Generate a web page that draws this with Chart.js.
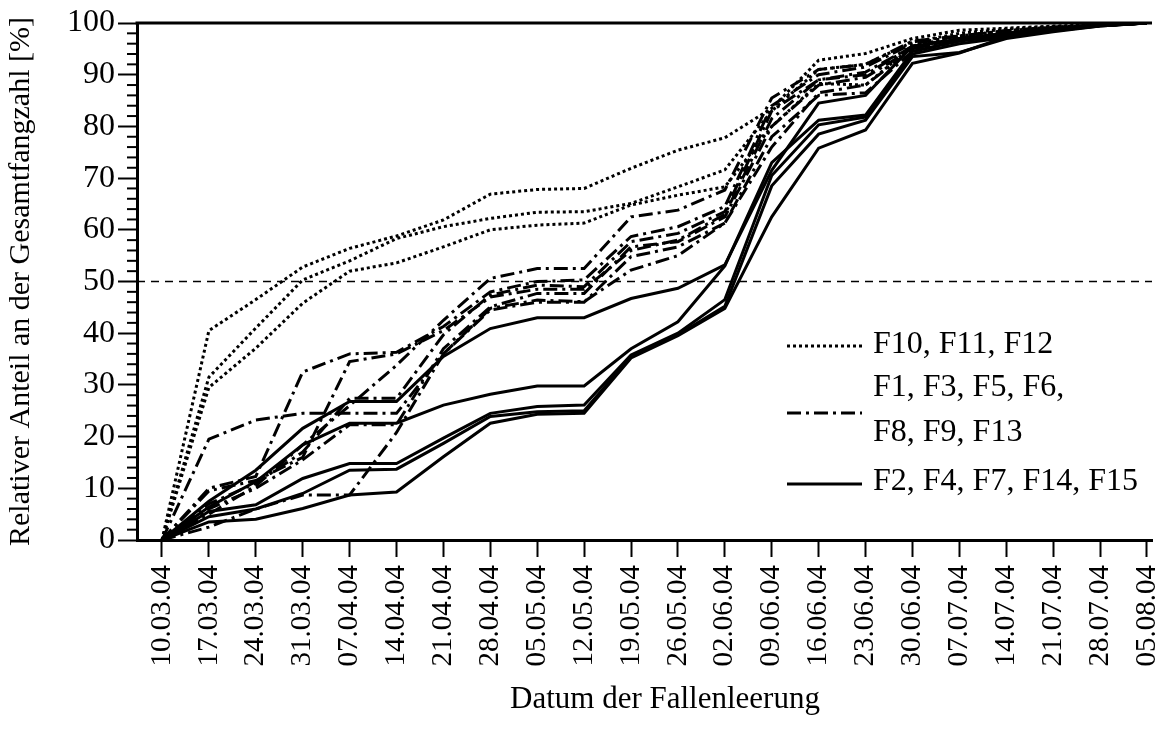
<!DOCTYPE html>
<html><head><meta charset="utf-8">
<script src="https://cdn.jsdelivr.net/npm/chart.js@4.4.1/dist/chart.umd.min.js"></script>
<style>html,body{margin:0;padding:0;background:#fff;}#wrap{width:1168px;height:731px;}</style>
</head><body><div id="wrap"><canvas id="c" width="1168" height="731"></canvas></div>
<script>
// ---- data ----
const dates = ["10.03.04","17.03.04","24.03.04","31.03.04","07.04.04","14.04.04","21.04.04","28.04.04","05.05.04","12.05.04","19.05.04","26.05.04","02.06.04","09.06.04","16.06.04","23.06.04","30.06.04","07.07.04","14.07.04","21.07.04","28.07.04","05.08.04"];
const yTicks = [0,10,20,30,40,50,60,70,80,90,100];
const threshold = 50;
const xTitle = 'Datum der Fallenleerung';
const yTitle = 'Relativer Anteil an der Gesamtfangzahl [%]';

// dotted group
const F10 = [0,40.5,46.5,52.8,56.4,58.8,61.9,66.9,67.8,68.0,71.9,75.4,77.8,83.5,92.8,94.1,97.0,98.6,99.0,99.4,99.7,100];
const F11 = [0,31.5,41.0,50.3,54.0,58.3,60.6,62.2,63.4,63.5,65.1,68.3,71.6,83.0,91.0,92.0,96.3,98.0,98.8,99.3,99.7,100];
const F12 = [0,29.5,37.1,45.8,52.0,53.6,56.7,60.0,60.9,61.3,64.8,66.7,68.3,80.0,88.3,88.0,95.5,97.5,98.5,99.2,99.6,100];
// dash-dot group
const F1  = [0,19.5,23.2,24.5,24.5,24.5,36.0,44.8,46.4,46.1,52.2,55.0,61.3,76.0,86.5,88.0,95.0,97.0,98.0,99.0,99.5,100];
const F3  = [0,10.0,12.3,32.5,36.0,36.3,41.3,48.0,50.0,50.3,58.7,60.6,64.5,84.0,90.0,91.5,96.0,97.5,98.5,99.0,99.5,100];
const F5  = [0,5.0,10.5,18.4,26.0,33.8,42.5,50.6,52.5,52.5,62.5,63.8,67.7,85.5,91.0,92.0,96.5,97.5,98.5,99.2,99.6,100];
const F6  = [0,7.0,11.0,17.0,27.4,27.4,39.7,47.4,49.3,49.0,57.7,59.3,63.5,83.0,89.0,90.5,95.5,97.0,98.0,99.0,99.5,100];
const F8  = [0,6.0,10.0,15.5,22.3,22.3,37.0,45.1,47.7,47.7,56.7,57.7,62.5,80.0,88.0,89.5,95.0,97.0,98.0,99.0,99.5,100];
const F9  = [0,2.5,6.0,8.7,8.7,20.8,36.0,44.5,46.0,46.0,54.8,56.7,61.3,78.0,86.0,86.5,94.5,96.5,97.5,98.5,99.5,100];
const F13 = [0,9.5,11.5,16.0,34.5,36.0,40.5,47.0,48.5,48.5,56.0,58.0,63.0,81.5,89.0,90.0,95.5,97.0,98.0,99.0,99.5,100];
// solid group
const F2  = [0,7.5,13.5,21.6,26.8,26.8,35.5,40.9,43.0,43.0,46.7,48.7,53.2,71.5,84.5,86.0,95.5,96.8,97.8,98.8,99.6,100];
const F4  = [0,6.4,11.3,18.4,22.6,22.6,26.1,28.2,29.8,29.8,37.0,42.2,53.0,73.0,81.2,82.2,94.5,96.5,97.5,98.5,99.5,100];
const F7  = [0,5.5,6.8,11.9,14.8,14.8,19.7,24.5,25.8,26.1,35.8,40.0,46.5,70.5,80.3,81.8,94.0,96.0,97.2,98.5,99.5,100];
const F14 = [0,4.5,6.0,9.0,13.5,13.7,18.7,23.9,24.8,25.0,35.5,39.7,45.2,68.5,78.5,81.2,93.5,94.3,97.0,98.3,99.4,100];
const F15 = [0,3.5,4.0,6.1,8.7,9.3,16.1,22.6,24.3,24.5,35.2,39.5,44.8,62.5,75.8,79.3,92.2,94.2,97.3,98.5,99.4,100];

const dottedNames = ["F10","F11","F12"];
const dottedData  = [F10,F11,F12];
const dashdotNames = ["F1","F3","F5","F6","F8","F9","F13"];
const dashdotData  = [F1,F3,F5,F6,F8,F9,F13];
const solidNames = ["F2","F4","F7","F14","F15"];
const solidData  = [F2,F4,F7,F14,F15];

const legendTexts = [["F10, F11, F12"],["F1, F3, F5, F6,","F8, F9, F13"],["F2, F4, F7, F14, F15"]];

// ---- styles ----
const FONT = '"Liberation Serif", "Times New Roman", serif';
const DOT = [3,3], DASHDOT = [14,5,3,5], SOLID = [];

function mk(name, arr, dash){
  return {label:name, data:arr.map((v,i)=>({x:i,y:v})), borderColor:'#000', borderWidth:3,
    borderDash:dash, pointRadius:0, tension:0, fill:false, borderCapStyle:'butt', borderJoinStyle:'miter'};
}
const datasets = [];
solidNames.forEach((n,i)=>datasets.push(mk(n, solidData[i], SOLID)));
dashdotNames.forEach((n,i)=>datasets.push(mk(n, dashdotData[i], DASHDOT)));
dottedNames.forEach((n,i)=>datasets.push(mk(n, dottedData[i], DOT)));

const extras = {
  id:'extras',
  beforeDatasetsDraw(chart){
    const {ctx, chartArea:a, scales:{y}} = chart;
    const yy = y.getPixelForValue(threshold);
    ctx.save(); ctx.strokeStyle='#000'; ctx.lineWidth=1.5; ctx.setLineDash([8,6]);
    ctx.beginPath(); ctx.moveTo(a.left, yy); ctx.lineTo(a.right, yy); ctx.stroke(); ctx.restore();
  },
  afterDraw(chart){
    const {ctx, chartArea:a, scales:{y}} = chart;
    ctx.save(); ctx.strokeStyle='#000'; ctx.fillStyle='#000';
    // top frame line
    ctx.lineWidth=3; ctx.beginPath(); ctx.moveTo(a.left-1.5, a.top); ctx.lineTo(a.right, a.top); ctx.stroke();
    // minor y ticks
    ctx.lineWidth=2;
    for(let v=0; v<=100; v+=2){ if(v%10===0) continue; const py=y.getPixelForValue(v);
      ctx.beginPath(); ctx.moveTo(a.left-10, py); ctx.lineTo(a.left, py); ctx.stroke(); }
    // x axis title
    ctx.font='31px '+FONT; ctx.textAlign='center'; ctx.textBaseline='middle';
    ctx.fillText(xTitle, 665, 700);
    // legend
    const sx0=787, sx1=862, tx=873;
    const rows=[{dash:DOT,y:346,ty:[345]},{dash:DASHDOT,y:413,ty:[388,433]},{dash:SOLID,y:484,ty:[482]}];
    ctx.font='32px '+FONT; ctx.textBaseline='middle'; ctx.textAlign='left';
    rows.forEach((r,k)=>{
      ctx.lineWidth=3; ctx.setLineDash(r.dash); ctx.beginPath(); ctx.moveTo(sx0,r.y); ctx.lineTo(sx1,r.y); ctx.stroke();
      ctx.setLineDash([]);
      legendTexts[k].forEach((t,j)=>ctx.fillText(t, tx, r.ty[j]));
    });
    ctx.restore();
  }
};

new Chart(document.getElementById('c'), {
  type:'line',
  data:{datasets},
  options:{
    responsive:false, animation:false, devicePixelRatio:1,
    layout:{padding:{top:23,right:16,left:0,bottom:0}},
    plugins:{legend:{display:false}, tooltip:{enabled:false}},
    scales:{
      x:{type:'linear', min:-0.533, max:21.107,
        afterBuildTicks(s){ s.ticks = dates.map((d,i)=>({value:i})); },
        afterFit(s){ s.height = 191; s.paddingLeft = 0; s.paddingRight = 0; },
        ticks:{autoSkip:false, maxRotation:90, minRotation:90, padding:8, color:'#000',
          font:{family:FONT,size:29}, callback:(v)=>dates[v]},
        grid:{display:true, drawOnChartArea:false, drawTicks:true, tickLength:17, tickWidth:2, tickColor:'#000'},
        border:{display:true, color:'#000', width:3},
        title:{display:false}
      },
      y:{min:0, max:100,
        afterBuildTicks(s){ s.ticks = yTicks.map(v=>({value:v})); },
        afterFit(s){ s.width = 137; },
        ticks:{padding:3, color:'#000', font:{family:FONT,size:32}},
        grid:{display:true, drawOnChartArea:false, drawTicks:true, tickLength:19, tickWidth:2, tickColor:'#000'},
        border:{display:true, color:'#000', width:3},
        title:{display:true, text:yTitle, color:'#000', font:{family:FONT,size:30}, padding:{top:3,bottom:0}}
      }
    }
  },
  plugins:[extras]
});
</script></body></html>
